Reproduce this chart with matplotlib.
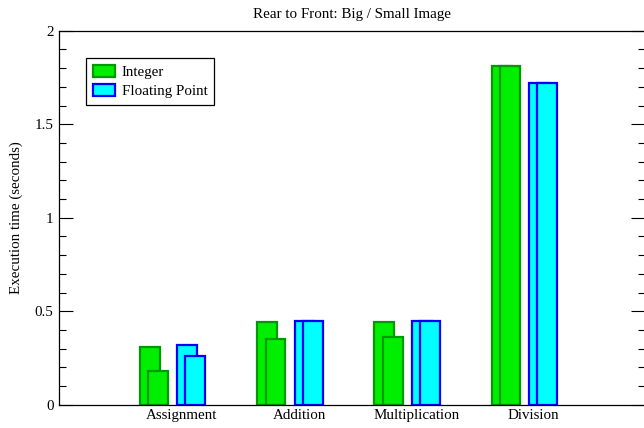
import numpy as np
import matplotlib.pyplot as plt
from matplotlib.patches import Patch

plt.rcParams['font.family'] = ['Liberation Serif', 'DejaVu Serif']
FS = 10.8

categories = ['Assignment', 'Addition', 'Multiplication', 'Division']
int_big = [0.31, 0.44, 0.44, 1.81]
int_small = [0.18, 0.35, 0.36, 1.81]
float_big = [0.32, 0.45, 0.45, 1.72]
float_small = [0.26, 0.45, 0.45, 1.72]

x = np.arange(1, len(categories) + 1)
w = 0.17

fig = plt.figure(figsize=(6.44, 4.28), dpi=100)
ax = fig.add_axes([59 / 644, 23.3 / 428, 586 / 644, 374 / 428])

green, dgreen = '#00ee00', '#009900'
cyan, blue = '#00ffff', '#0000ff'

# rear (big image) first, front (small image) drawn over it
ax.bar(x - 0.273, int_big, w, color=green, edgecolor=dgreen, linewidth=1.6)
ax.bar(x - 0.202, int_small, w, color=green, edgecolor=dgreen, linewidth=1.6)
ax.bar(x + 0.045, float_big, w, color=cyan, edgecolor=blue, linewidth=1.6)
ax.bar(x + 0.115, float_small, w, color=cyan, edgecolor=blue, linewidth=1.6)

ax.set_xlim(-0.049, 4.95)
ax.set_ylim(0, 2)
ax.set_xticks(x)
ax.set_xticklabels(categories, fontsize=FS)
ax.tick_params(axis='x', length=0, pad=3)
ax.set_yticks([0, 0.5, 1, 1.5, 2])
ax.set_yticklabels(['0', '0.5', '1', '1.5', '2'], fontsize=FS)
ax.set_yticks(np.arange(0, 2.01, 0.1), minor=True)
ax.tick_params(axis='y', which='major', direction='in', length=10, right=True, width=0.8, pad=4)
ax.tick_params(axis='y', which='minor', direction='in', length=5, right=True, width=0.8)
for s in ax.spines.values():
    s.set_linewidth(0.9)

ax.set_ylabel('Execution time (seconds)', fontsize=FS, labelpad=8)
ax.set_title('Rear to Front: Big / Small Image', fontsize=FS, pad=9)

handles = [Patch(facecolor=green, edgecolor=dgreen, linewidth=1.6, label='Integer'),
           Patch(facecolor=cyan, edgecolor=blue, linewidth=1.6, label='Floating Point')]
leg = ax.legend(handles=handles, loc='upper left', bbox_to_anchor=(0.046, 0.927),
                borderaxespad=0, fontsize=FS, fancybox=False, edgecolor='black',
                framealpha=1, handlelength=1.5, handleheight=0.85, borderpad=0.45,
                labelspacing=0.35, handletextpad=0.45)
leg.get_frame().set_linewidth(0.9)

fig.savefig('out.png', dpi=100)
